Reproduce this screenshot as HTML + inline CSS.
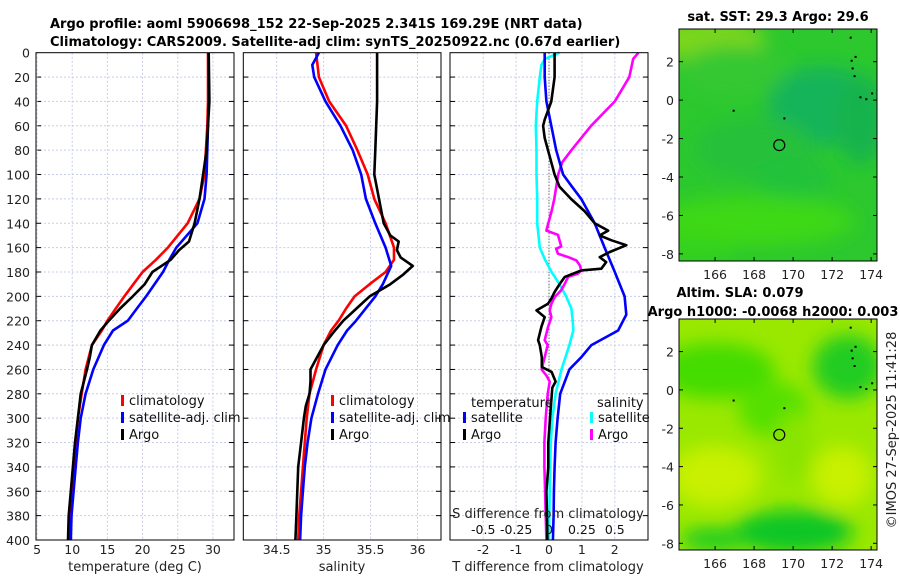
<!DOCTYPE html>
<html><head><meta charset="utf-8"><style>
html,body{margin:0;padding:0;background:#fff;width:900px;height:580px;overflow:hidden}
svg{display:block;font-family:"DejaVu Sans","Liberation Sans",sans-serif}
</style></head><body>
<svg id="fig" width="900" height="580" viewBox="0 0 900 580" xmlns="http://www.w3.org/2000/svg">
<defs>
<filter id="blur1" x="-20%" y="-20%" width="140%" height="140%"><feGaussianBlur stdDeviation="9"/></filter>
<clipPath id="clipMap1"><rect x="679" y="29" width="198" height="232"/></clipPath>
<clipPath id="clipMap2"><rect x="679" y="319" width="198" height="231"/></clipPath>
</defs>
<text x="50" y="28" font-size="13" font-weight="bold">Argo profile: aoml 5906698_152 22-Sep-2025 2.341S 169.29E (NRT data)</text>
<text x="50" y="46" font-size="13" font-weight="bold">Climatology: CARS2009. Satellite-adj clim: synTS_20250922.nc (0.67d earlier)</text>
<g id="maps"></g>
<g id="panels"></g>
</svg>
<script>
// ---------- depths (dbar) ----------
const depthTop = [0,20,40,60,80,100,120,140,160,170,180,190,200,210,220,228,240,260,280,300,320,340,360,380,400];
// Temperature (deg C)
const tempClim = [29.3,29.3,29.3,29.2,29.0,28.8,28.1,26.4,23.6,21.9,20.0,18.7,17.4,16.2,15.0,14.2,12.8,11.9,11.35,10.8,10.5,10.2,9.9,9.65,9.5];
const tempSat  = [29.4,29.4,29.4,29.3,29.2,29.1,28.8,27.8,24.8,23.8,22.9,21.7,20.5,19.2,17.9,15.8,14.5,13.0,11.9,11.2,10.8,10.5,10.2,9.9,9.8];
const tempArgoDepth = [0,40,80,100,120,140,155,162,170,180,190,200,210,220,228,240,250,260,280,300,320,340,360,380,400];
const tempArgo = [29.4,29.5,29.1,28.6,28.1,27.4,26.6,25.2,24.0,21.4,20.3,18.6,16.8,15.2,14.0,12.8,12.5,12.1,11.2,10.8,10.4,10.1,9.8,9.5,9.4];
// Salinity
const salClim = [34.92,34.95,35.06,35.24,35.36,35.47,35.54,35.66,35.75,35.75,35.66,35.49,35.33,35.24,35.16,35.08,35.0,34.92,34.85,34.82,34.80,34.78,34.76,34.74,34.73];
const salSatDepth = [0,10,20,40,60,80,100,120,140,160,175,190,200,220,228,240,260,280,300,320,340,360,380,400];
const salSat = [34.95,34.88,34.90,35.02,35.18,35.31,35.40,35.45,35.55,35.66,35.72,35.63,35.55,35.345,35.25,35.15,35.02,34.94,34.87,34.83,34.80,34.78,34.76,34.75];
const salArgoDepth = [0,40,60,80,100,120,140,150,155,162,168,175,182,190,200,210,220,230,240,260,270,280,290,300,320,340,360,380,400];
const salArgo = [35.57,35.57,35.56,35.55,35.54,35.59,35.64,35.71,35.80,35.78,35.82,35.95,35.85,35.71,35.49,35.35,35.21,35.10,35.0,34.86,34.86,34.85,34.81,34.79,34.76,34.73,34.72,34.71,34.70];
// T difference from climatology
const dTSatDepth = [0,20,40,60,80,100,110,120,140,160,180,200,215,228,240,250,260,280,300,320,340,360,380,400];
const dTSat = [-0.13,-0.13,-0.08,0.07,0.22,0.43,0.7,0.98,1.39,1.69,2.0,2.30,2.35,2.1,1.29,0.98,0.62,0.34,0.26,0.2,0.17,0.15,0.14,0.12];
const dTArgoDepth = [0,20,40,55,60,70,80,90,100,110,120,130,140,146,150,154,158,163.6,167.8,171.9,177.3,178.7,184,189.6,196.4,201.9,206,211.5,217,225,236,240,250,258,262,270,275,300,320,340,360,380,400];
const dTArgo = [0.17,0.17,0.07,-0.13,-0.18,-0.13,-0.03,0.07,0.17,0.32,0.67,1.08,1.39,1.80,1.54,1.90,2.35,1.85,1.54,1.74,1.59,0.98,0.48,0.33,0.17,0.07,-0.03,-0.38,-0.13,-0.23,-0.33,-0.28,-0.22,-0.22,0.08,0.2,0.1,0.03,-0.02,-0.02,-0.08,-0.06,-0.05];
// S difference from climatology
const dSSatDepth = [0,5,10,20,40,60,80,100,120,140,160,170,180,190,200,210,220,228,240,260,280,300,320,340,360,380,400];
const dSSat = [0.08,-0.03,-0.058,-0.07,-0.09,-0.10,-0.095,-0.095,-0.09,-0.09,-0.07,-0.03,0.02,0.08,0.13,0.17,0.18,0.185,0.155,0.095,0.05,0.026,0.014,0.008,0.005,0.002,0.0];
const dSArgoDepth = [0,5,20,40,60,80,90,100,120,130,140,146,149.5,154,159,160.9,165,167.8,170.5,174.6,178.7,181.4,184,189.6,195,200.5,206,211.5,217,225,236,240,260,265,270,280,300,320,340,360,380,400];
const dSArgo = [0.68,0.64,0.61,0.50,0.32,0.17,0.10,0.07,0.04,0.02,-0.005,-0.02,0.068,0.08,0.093,0.055,0.068,0.145,0.208,0.234,0.246,0.22,0.145,0.12,0.093,0.043,0.018,0.005,0.018,-0.007,-0.033,-0.01,-0.056,-0.02,0.005,-0.01,-0.025,-0.035,-0.035,-0.03,-0.025,-0.02];
// tick labels
const depthTicks = [0,20,40,60,80,100,120,140,160,180,200,220,240,260,280,300,320,340,360,380,400];
const tempTicks = [5,10,15,20,25,30];
const salTicks = [34.5,35,35.5,36];
const dTTicks = [-2,-1,0,1,2];
const dSTickVals = [-0.5,-0.25,0,0.25,0.5];
const dSTickLabels = ["-0.5","-0.25","0","0.25","0.5"];
const lonTicks = [166,168,170,172,174];
const latTicks = [2,0,-2,-4,-6,-8];
// float position
const floatLon = 169.29, floatLat = -2.341;

const NS = "http://www.w3.org/2000/svg";
function mk(tag, attrs, parent){const e=document.createElementNS(NS,tag);for(const k in attrs)e.setAttribute(k,attrs[k]);parent.appendChild(e);return e;}
const panels = document.getElementById('panels');
const maps = document.getElementById('maps');

const yTop=52.7, yBot=540;
function yScale(d){return yTop+(d/400)*(yBot-yTop);}
function linScale(d0,d1,r0,r1){return v=>r0+(v-d0)/(d1-d0)*(r1-r0);}

const P = [
 {x0:36,x1:234,dom:[4.85,33],name:'temperature'},
 {x0:243.3,x1:441,dom:[34.145,36.25],name:'salinity'},
 {x0:450,x1:648,dom:[-3.01,3.01],name:'difference'}
];
P.forEach(p=>{p.sx=linScale(p.dom[0],p.dom[1],p.x0,p.x1);});
const sxS = linScale(-0.7525,0.7525,450,648);

function frame(p, xticks, labelFn){
  const g=mk('g',{},panels);
  
  
  depthTicks.forEach(d=>{ if(d===0||d===400) return;
    const l=mk('line',{x1:p.x0,x2:p.x1,y1:yScale(d),y2:yScale(d),stroke:'#c8cde8','stroke-width':1,'stroke-dasharray':'2,2'},g);
     
    for(const xx of [p.x0,p.x1]){
      const t=mk('line',{x1:xx,x2:xx+(xx===p.x0?5:-5),y1:yScale(d),y2:yScale(d),stroke:'#000','stroke-width':1},g);
       
    }
  });
  xticks.forEach((v,i)=>{
    const x=Math.max(p.sx(v),p.x0);
    if(x>p.x0+1){
      const l=mk('line',{x1:x,x2:x,y1:yTop,y2:yBot,stroke:'#c8cde8','stroke-width':1,'stroke-dasharray':'2,2'},g);
       
    }
    const tx=mk('text',{x:x,y:554,'font-size':12.5,'text-anchor':'middle',fill:'#222'},g);
    tx.textContent=labelFn(v);
     
  });
  return g;
}
function curve(g, depths, vals, sx, color, name, w){
  const pts=depths.map((d,i)=>sx(vals[i]).toFixed(1)+','+yScale(d).toFixed(1)).join(' ');
  const pl=mk('polyline',{points:pts,fill:'none',stroke:color,'stroke-width':w||2.6,'stroke-linejoin':'round'},g);
  
  
}
function border(g,p){
  const r=mk('rect',{x:p.x0,y:yTop,width:p.x1-p.x0,height:yBot-yTop,fill:'none',stroke:'#000','stroke-width':1},g);
   
}
function legend(g, x, y, color, label){
  const m=mk('rect',{x:x,y:y-8,width:3,height:11,fill:color},g);
   
  const t=mk('text',{x:x+8,y:y+2,'font-size':13,fill:'#111'},g);
  t.textContent=label;
   
}
function axisTitle(g,x,y,txt,name){
  const t=mk('text',{x:x,y:y,'font-size':13,'text-anchor':'middle',fill:'#222'},g);
  t.textContent=txt;  
}

// Panel 1: temperature
const g1=frame(P[0],tempTicks,v=>String(v));
depthTicks.forEach(d=>{const t=mk('text',{x:30,y:yScale(d)+5,'font-size':12.5,'text-anchor':'end',fill:'#222'},g1);t.textContent=String(d);
   });
curve(g1,depthTop,tempClim,P[0].sx,'#ff0000','temp-climatology-line');
curve(g1,depthTop,tempSat,P[0].sx,'#0000ff','temp-satellite-line');
curve(g1,tempArgoDepth,tempArgo,P[0].sx,'#000000','temp-argo-line');
border(g1,P[0]);
legend(g1,121,403,'#ff0000','climatology');
legend(g1,121,420,'#0000ff','satellite-adj. clim');
legend(g1,121,437,'#000000','Argo');
axisTitle(g1,135,571,'temperature (deg C)','x-axis-title-temperature');

// Panel 2: salinity
const g2=frame(P[1],salTicks,v=>String(v));
curve(g2,depthTop,salClim,P[1].sx,'#ff0000','sal-climatology-line');
curve(g2,salSatDepth,salSat,P[1].sx,'#0000ff','sal-satellite-line');
curve(g2,salArgoDepth,salArgo,P[1].sx,'#000000','sal-argo-line');
border(g2,P[1]);
legend(g2,331,403,'#ff0000','climatology');
legend(g2,331,420,'#0000ff','satellite-adj. clim');
legend(g2,331,437,'#000000','Argo');
axisTitle(g2,342,571,'salinity','x-axis-title-salinity');

// Panel 3: differences
const g3=frame(P[2],dTTicks,v=>String(v));
{const z=mk('line',{x1:P[2].sx(0),x2:P[2].sx(0),y1:yTop,y2:yBot,stroke:'#444','stroke-width':1,'stroke-dasharray':'1,2'},g3);
  }
curve(g3,dSSatDepth,dSSat,sxS,'#00ffff','sdiff-satellite-line');
curve(g3,dSArgoDepth,dSArgo,sxS,'#ff00ff','sdiff-argo-line');
curve(g3,dTSatDepth,dTSat,P[2].sx,'#0000ff','tdiff-satellite-line');
curve(g3,dTArgoDepth,dTArgo,P[2].sx,'#000000','tdiff-argo-line');
border(g3,P[2]);
{const t=mk('text',{x:471,y:407,'font-size':13,fill:'#111'},g3);t.textContent='temperature';
  
 const s=mk('text',{x:597,y:407,'font-size':13,fill:'#111'},g3);s.textContent='salinity';
  }
legend(g3,463,420,'#0000ff','satellite');
legend(g3,463,437,'#000000','Argo');
legend(g3,590,420,'#00ffff','satellite');
legend(g3,590,437,'#ff00ff','Argo');
axisTitle(g3,548,518,'S difference from climatology','s-axis-title');
dSTickVals.forEach((v,i)=>{const t=mk('text',{x:sxS(v),y:534,'font-size':12.5,'text-anchor':'middle',fill:'#111'},g3);t.textContent=dSTickLabels[i];
   });
axisTitle(g3,548,571,'T difference from climatology','x-axis-title-tdiff');

// ---------- Maps ----------
const lonX=linScale(164.15,174.3,679,877);
function mapAxes(top,bot,latTop,latBot,title1,id,blobs,bg,clip){
  const latY=linScale(latTop,latBot,top,bot);
  const g=mk('g',{},maps);
  
  
  const cg=mk('g',{'clip-path':'url(#'+clip+')'},g);
  mk('rect',{x:679,y:top,width:198,height:bot-top,fill:bg},cg);
  const bg2=mk('g',{filter:'url(#blur1)'},cg);
  blobs.forEach(b=>mk('ellipse',{cx:lonX(b[0]),cy:latY(b[1]),rx:b[2],ry:b[3],fill:b[4]},bg2));
  [[172.9,3.3],[172.95,2.1],[173.0,1.7],[173.1,1.3],[173.4,0.2],[173.7,0.1],[174.0,0.4],[166.9,-0.5],[169.5,-0.9],[173.15,2.3]].forEach(p=>{
    const r=mk('rect',{x:lonX(p[0]),y:latY(p[1]),width:2,height:2,fill:'#000'},cg);
     
  });
  const c=mk('circle',{cx:lonX(floatLon),cy:latY(floatLat),r:5.5,fill:'none',stroke:'#000','stroke-width':1.2},g);
   
  const fr=mk('rect',{x:679,y:top,width:198,height:bot-top,fill:'none',stroke:'#000','stroke-width':1},g);
   
  lonTicks.forEach(v=>{const x=lonX(v);
    mk('line',{x1:x,x2:x,y1:bot,y2:bot-4,stroke:'#000'},g);mk('line',{x1:x,x2:x,y1:top,y2:top+4,stroke:'#000'},g);
    const t=mk('text',{x:x,y:bot+18,'font-size':12.5,'text-anchor':'middle',fill:'#222'},g);t.textContent=String(v);
     });
  latTicks.forEach(v=>{const y=latY(v);
    mk('line',{x1:679,x2:683,y1:y,y2:y,stroke:'#000'},g);mk('line',{x1:877,x2:873,y1:y,y2:y,stroke:'#000'},g);
    const t=mk('text',{x:674,y:y+5,'font-size':12.5,'text-anchor':'end',fill:'#222'},g);t.textContent=String(v);
     });
  title1.forEach(tt=>{const t=mk('text',{x:tt[0],y:tt[1],'font-size':13,'font-weight':'bold','text-anchor':'middle'},g);t.textContent=tt[2];
     });
}
mapAxes(29,261,3.7,-8.37,[[778,21,'sat. SST: 29.3 Argo: 29.6']],'sst-map',[
 [165.5,3.2,60,22,'#7ad61a'],[167,1.5,55,25,'#35c830'],[171.5,-0.3,55,40,'#14b45a'],[173.5,-1,25,45,'#16b34e'],
 [168,-2.5,60,30,'#26c03a'],[168,-6.3,100,25,'#3cd812'],[170,-4,40,20,'#22c23a'],[165,-7.8,40,12,'#36d21a']
],'#2cc82e','clipMap1');
mapAxes(319,550,3.7,-8.35,[[740,297,'Altim. SLA: 0.079'],[773,316,'Argo h1000: -0.0068 h2000: 0.003']],'sla-map',[
 [166,1,60,28,'#44dc00'],[169,-1,35,28,'#55e000'],[172.8,1.2,35,32,'#22cc22'],[166,-4.5,45,30,'#c8f000'],
 [172.5,-4.5,30,30,'#c8f000'],[170,-7.4,60,22,'#11c628'],[166,-7.8,35,12,'#22cc22'],[170,-3,18,35,'#88e400']
],'#9ae800','clipMap2');
{const t=mk('text',{x:0,y:0,'font-size':13,'text-anchor':'middle',fill:'#222',transform:'translate(896,430) rotate(-90)'},maps);
 t.textContent='©IMOS 27-Sep-2025 11:41:28';
  }
</script>
</body></html>
